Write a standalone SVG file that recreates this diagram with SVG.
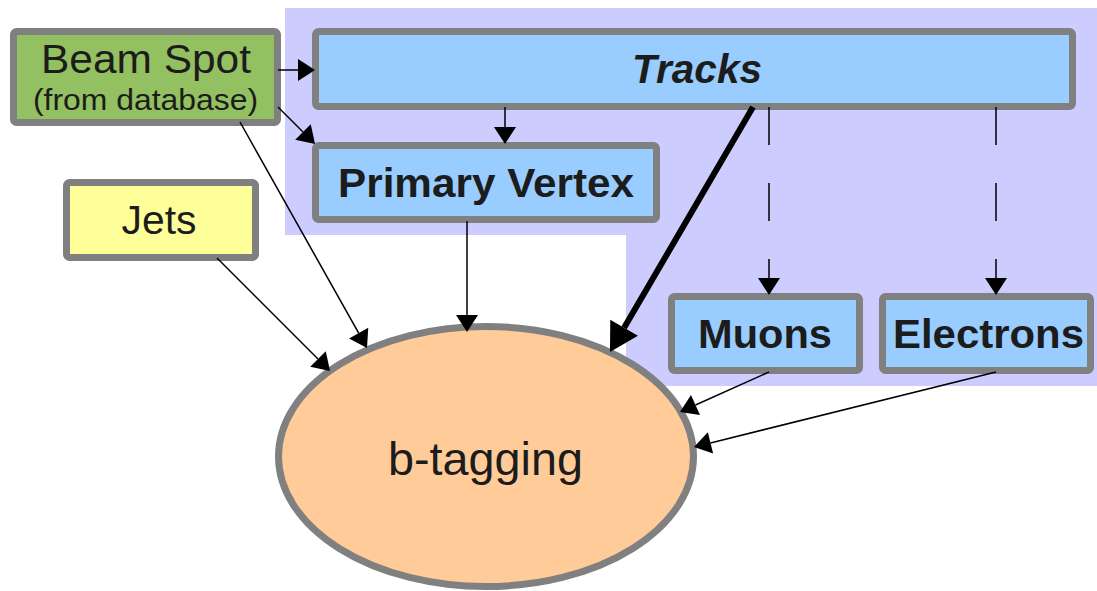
<svg xmlns="http://www.w3.org/2000/svg" width="1097" height="591" viewBox="0 0 1097 591">
  <style>
    .box { stroke: #808080; stroke-width: 7; }
    .lbl { font-family: "Liberation Sans", Arial, sans-serif; fill: #1c1c1c; text-anchor: middle; }
    .bold { font-weight: bold; }
    .edge { fill: none; stroke: #000; stroke-width: 1.5; }
    .dash { stroke-dasharray: 38 38; }
    .heavy { fill: none; stroke: #000; stroke-width: 6; }
  </style>
  <defs>
    <marker id="arrow" markerUnits="userSpaceOnUse" markerWidth="17" markerHeight="22" refX="0" refY="11" orient="auto" overflow="visible">
      <path d="M0,0 L17,11 L0,22 Z" fill="#000"/>
    </marker>
    <marker id="arrow-big" markerUnits="userSpaceOnUse" markerWidth="28" markerHeight="32" refX="0" refY="16" orient="auto" overflow="visible">
      <path d="M0,0 L28,16 L0,32 Z" fill="#000"/>
    </marker>
  </defs>

  <rect width="1097" height="591" fill="#fff"/>

  <!-- reconstruction region -->
  <polygon points="285,8 1097,8 1097,386 626,386 626,235 285,235" fill="#ccccff"/>

  <g id="beam-spot">
    <rect class="box" x="13.5" y="31.5" width="264" height="91" rx="3" fill="#93c060"/>
    <text class="lbl" x="146" y="73" font-size="40" textLength="210" lengthAdjust="spacingAndGlyphs">Beam Spot</text>
    <text class="lbl" x="145.5" y="110" font-size="29" textLength="225" lengthAdjust="spacingAndGlyphs">(from database)</text>
  </g>

  <g id="jets">
    <rect class="box" x="66.5" y="182.5" width="189" height="75" rx="3" fill="#ffff99"/>
    <text class="lbl" x="159" y="234" font-size="40" textLength="75" lengthAdjust="spacingAndGlyphs">Jets</text>
  </g>

  <g id="tracks">
    <rect class="box" x="315.5" y="31.5" width="757" height="75" rx="3" fill="#99ccff"/>
    <text class="lbl bold" x="697" y="83" font-size="41" font-style="italic" textLength="130" lengthAdjust="spacingAndGlyphs">Tracks</text>
  </g>

  <g id="primary-vertex">
    <rect class="box" x="315.5" y="145.5" width="341" height="74" rx="3" fill="#99ccff"/>
    <text class="lbl bold" x="486" y="197" font-size="41" textLength="296" lengthAdjust="spacingAndGlyphs">Primary Vertex</text>
  </g>

  <g id="muons">
    <rect class="box" x="671.5" y="296.5" width="188" height="74" rx="3" fill="#99ccff"/>
    <text class="lbl bold" x="765" y="348" font-size="41" textLength="134" lengthAdjust="spacingAndGlyphs">Muons</text>
  </g>

  <g id="electrons">
    <rect class="box" x="882.5" y="296.5" width="208" height="74" rx="3" fill="#99ccff"/>
    <text class="lbl bold" x="988.5" y="348" font-size="41" textLength="191" lengthAdjust="spacingAndGlyphs">Electrons</text>
  </g>

  <g id="b-tagging">
    <ellipse class="box" cx="486" cy="456.5" rx="207.5" ry="130" fill="#ffcc99"/>
    <text class="lbl" x="485.5" y="475" font-size="46" textLength="195" lengthAdjust="spacingAndGlyphs">b-tagging</text>
  </g>

  <g id="connectors">
    <path class="edge" d="M278,70 L298,70" marker-end="url(#arrow)"/>
    <path class="edge" d="M278,107 L303,132" marker-end="url(#arrow)"/>
    <path class="edge" d="M240,122 L358.7,333.2" marker-end="url(#arrow)"/>
    <path class="edge" d="M217,258 L318,359" marker-end="url(#arrow)"/>
    <path class="edge" d="M505,107 L505,127" marker-end="url(#arrow)"/>
    <path class="edge" d="M467,221 L467,315" marker-end="url(#arrow)"/>
    <path class="heavy" d="M753,107 L624.1,327.8" marker-end="url(#arrow-big)"/>
    <path class="edge dash" d="M769,107 L769,278" marker-end="url(#arrow)"/>
    <path class="edge dash" d="M996,107 L996,278" marker-end="url(#arrow)"/>
    <path class="edge" d="M769,372 L695.5,405" marker-end="url(#arrow)"/>
    <path class="edge" d="M996,372 L710.5,442.9" marker-end="url(#arrow)"/>
  </g>
</svg>
